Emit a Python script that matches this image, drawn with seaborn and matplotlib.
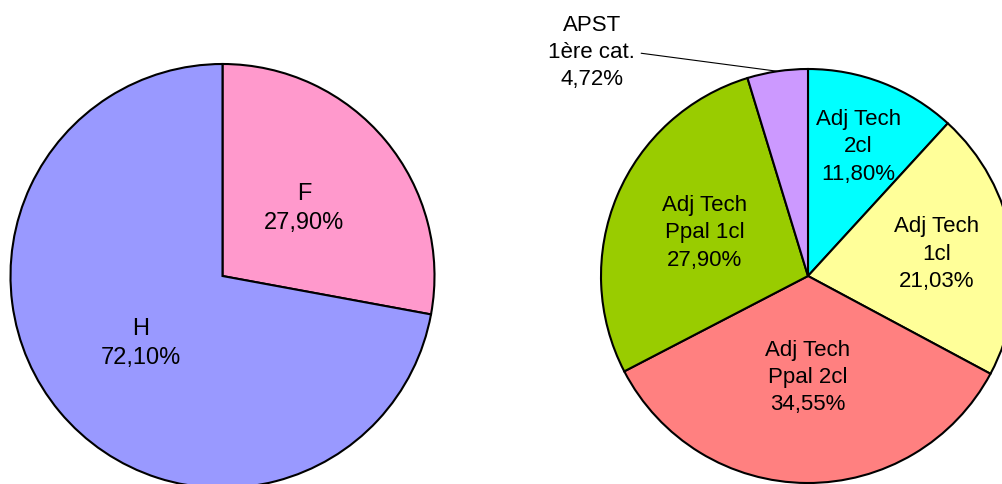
import matplotlib
matplotlib.use("Agg")
import matplotlib.pyplot as plt
import numpy as np
import seaborn as sns

# left pie: sex split
sex_labels = ["F", "H"]
sex_values = [27.90, 72.10]
sex_colors = ["#FF99CC", "#9999FF"]

# right pie: grades
grade_labels = ["Adj Tech\n2cl", "Adj Tech\n1cl", "Adj Tech\nPpal 2cl",
                "Adj Tech\nPpal 1cl", "APST\n1ère cat."]
grade_values = [11.80, 21.03, 34.55, 27.90, 4.72]
grade_colors = ["#00FFFF", "#FFFF99", "#FF8080", "#99CC00", "#CC99FF"]

sns.set_theme(style="white")
plt.rcParams["font.family"] = ["Liberation Sans", "DejaVu Sans"]
plt.rcParams["text.color"] = "black"

W, H = 1002, 484
PAD = 1.05
fig = plt.figure(figsize=(W / 100, H / 100), dpi=100)


def pie_axes(cx, cy, r):
    # cx, cy in image pixels (y from top), r = radius in pixels
    side = 2 * r * PAD
    ax = fig.add_axes([(cx - r * PAD) / W, (H - cy - r * PAD) / H, side / W, side / H])
    return ax


def fmt_pct(v):
    return f"{v:.2f}%".replace(".", ",")


def draw_pie(ax, labels, values, colors, dists, size):
    wedges, _ = ax.pie(values, colors=colors, startangle=90, counterclock=False,
                       radius=1.0,
                       wedgeprops=dict(edgecolor="black", linewidth=1.5))
    # pie() resets the limits, put them back so the radius maps to pixels
    ax.set_xlim(-PAD, PAD)
    ax.set_ylim(-PAD, PAD)
    ax.set_aspect("equal")
    ax.axis("off")
    for w, lab, v, d in zip(wedges, labels, values, dists):
        mid = np.deg2rad((w.theta1 + w.theta2) / 2)
        text = f"{lab}\n{fmt_pct(v)}"
        if d is None:
            ax.annotate(text, xy=(np.cos(mid), np.sin(mid)), xytext=(-1.045, 1.08),
                        ha="center", va="center", fontsize=size, linespacing=1.4,
                        annotation_clip=False,
                        arrowprops=dict(arrowstyle="-", color="black", lw=0.8,
                                        relpos=(1.0, 0.5), shrinkA=2, shrinkB=0))
        else:
            ax.text(d * np.cos(mid), d * np.sin(mid), text, ha="center", va="center",
                    fontsize=size, linespacing=1.4)


ax1 = pie_axes(222.5, 276, 212)
draw_pie(ax1, sex_labels, sex_values, sex_colors, [0.5, 0.5], 17)

ax2 = pie_axes(808, 276, 207)
draw_pie(ax2, grade_labels, grade_values, grade_colors,
         [0.67, 0.63, 0.49, 0.54, None], 16)

fig.savefig("out.png", dpi=100)
